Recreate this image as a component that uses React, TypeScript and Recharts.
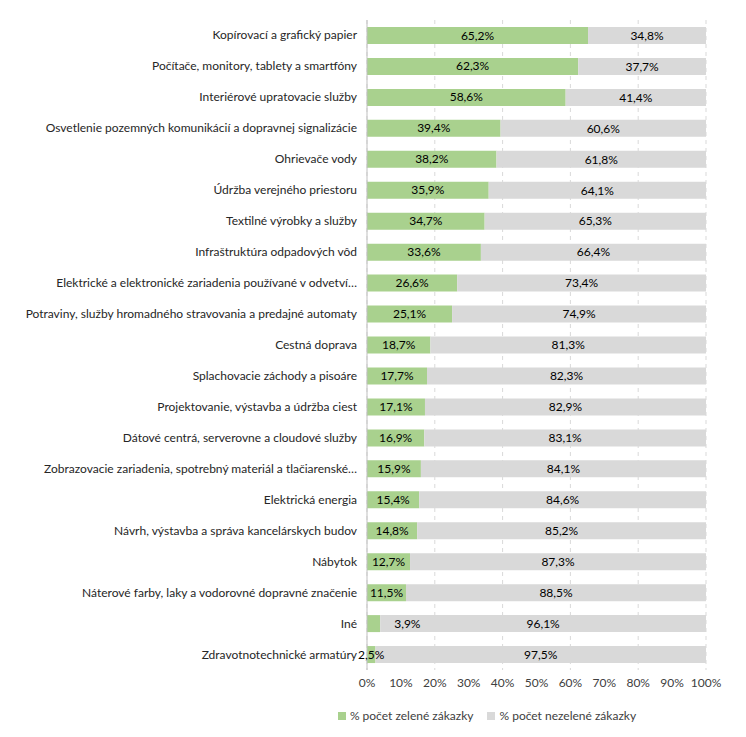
import React from "react";
import { BarChart, Bar, XAxis, YAxis, CartesianGrid, Legend, LabelList } from "recharts";

const categories = [
  "Kopírovací a grafický papier",
  "Počítače, monitory, tablety a smartfóny",
  "Interiérové upratovacie služby",
  "Osvetlenie pozemných komunikácií a dopravnej signalizácie",
  "Ohrievače vody",
  "Údržba verejného priestoru",
  "Textilné výrobky a služby",
  "Infraštruktúra odpadových vôd",
  "Elektrické a elektronické zariadenia používané v odvetví…",
  "Potraviny, služby hromadného stravovania a predajné automaty",
  "Cestná doprava",
  "Splachovacie záchody a pisoáre",
  "Projektovanie, výstavba a údržba ciest",
  "Dátové centrá, serverovne a cloudové služby",
  "Zobrazovacie zariadenia, spotrebný materiál a tlačiarenské…",
  "Elektrická energia",
  "Návrh, výstavba a správa kancelárskych budov",
  "Nábytok",
  "Náterové farby, laky a vodorovné dopravné značenie",
  "Iné",
  "Zdravotnotechnické armatúry",
];

const green = [65.2, 62.3, 58.6, 39.4, 38.2, 35.9, 34.7, 33.6, 26.6, 25.1, 18.7, 17.7, 17.1, 16.9, 15.9, 15.4, 14.8, 12.7, 11.5, 3.9, 2.5];
const nonGreen = [34.8, 37.7, 41.4, 60.6, 61.8, 64.1, 65.3, 66.4, 73.4, 74.9, 81.3, 82.3, 82.9, 83.1, 84.1, 84.6, 85.2, 87.3, 88.5, 96.1, 97.5];

const xTicks = [0, 10, 20, 30, 40, 50, 60, 70, 80, 90, 100];

const seriesNames = ["% počet zelené zákazky", "% počet nezelené zákazky"];
const seriesColors = ["#a9d18e", "#d9d9d9"];

const data = categories.map((name, i) => ({ name, green: green[i], nonGreen: nonGreen[i] }));

const pct = (v: number) => v.toFixed(1).replace(".", ",") + "%";
const font = "Lato, 'Noto Sans', sans-serif";

// category label on one line, no wrapping
const CatTick = (props: any) => {
  const { x, y, payload } = props;
  return (
    <text x={x} y={y} dy={4} textAnchor="end" fill="#262626" fontSize={12} fontFamily={font}>
      {payload.value}
    </text>
  );
};

// green labels: centred, but a narrow bar above ~3% gets its label pushed right (as in Excel)
const GreenLabel = (props: any) => {
  const { x, y, width, height, value } = props;
  const outside = width < 15 && value >= 3;
  const lx = outside ? x + width + 14 : x + width / 2;
  return (
    <text x={lx} y={y + height / 2} dy={4} textAnchor={outside ? "start" : "middle"} fill="#000" fontSize={12} fontFamily={font}>
      {pct(value)}
    </text>
  );
};

const LegendBox = () => (
  <div style={{ display: "flex", justifyContent: "center", marginLeft: 260, fontSize: 12, color: "#404040", fontFamily: font }}>
    {seriesNames.map((n, i) => (
      <div key={n} style={{ display: "flex", alignItems: "center", marginRight: i === 0 ? 14 : 0 }}>
        <span style={{ width: 8, height: 8, background: seriesColors[i], display: "inline-block", marginRight: 4 }} />
        {n}
      </div>
    ))}
  </div>
);

export default function App() {
  return (
    <div style={{ width: 730, height: 721, fontFamily: font }}>
      <BarChart
        width={730}
        height={721}
        data={data}
        layout="vertical"
        margin={{ top: 12, right: 32, left: 0, bottom: 6 }}
        barSize={17}
      >
        <CartesianGrid horizontal={false} strokeDasharray="4 4" stroke="#d9d9d9" />
        <XAxis
          type="number"
          domain={[0, 100]}
          ticks={xTicks}
          tickFormatter={(v) => v + "%"}
          axisLine={false}
          tickLine={false}
          tick={{ fill: "#404040", fontSize: 12, fontFamily: font }}
          height={28}
        />
        <YAxis
          type="category"
          dataKey="name"
          width={359}
          interval={0}
          axisLine={{ stroke: "#bfbfbf" }}
          tickLine={false}
          tickMargin={4}
          tick={<CatTick />}
        />
        <Legend content={<LegendBox />} wrapperStyle={{ paddingTop: 10 }} />
        <Bar dataKey="green" name={seriesNames[0]} stackId="a" fill={seriesColors[0]} isAnimationActive={false}>
          <LabelList dataKey="green" content={<GreenLabel />} />
        </Bar>
        <Bar dataKey="nonGreen" name={seriesNames[1]} stackId="a" fill={seriesColors[1]} isAnimationActive={false}>
          <LabelList dataKey="nonGreen" position="center" formatter={pct} fill="#000" fontSize={12} fontFamily={font} />
        </Bar>
      </BarChart>
    </div>
  );
}
